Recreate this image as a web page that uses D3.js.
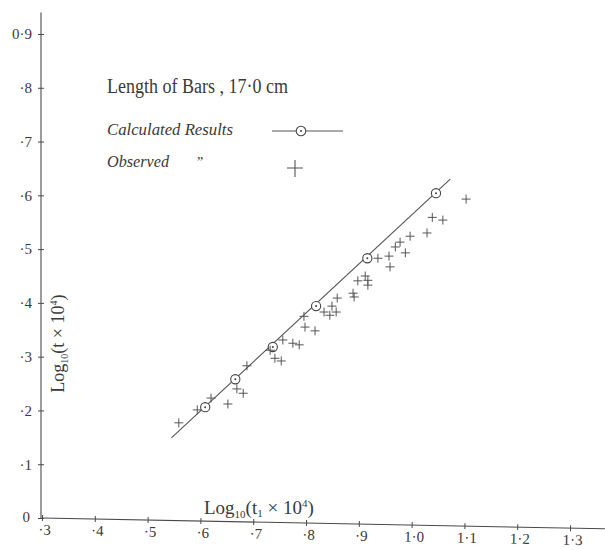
<!DOCTYPE html>
<html>
<head>
<meta charset="utf-8">
<script src="https://cdn.jsdelivr.net/npm/d3@7"></script>
<style>
  html, body { margin: 0; padding: 0; background: #ffffff; }
  svg { display: block; }
  text { fill: #3a3a3a; }
</style>
</head>
<body>
<div id="chart"></div>
<script>
// ---- Data ----
const xTicks = [0.3, 0.4, 0.5, 0.6, 0.7, 0.8, 0.9, 1.0, 1.1, 1.2, 1.3];
const xTickLabels = ["·3", "·4", "·5", "·6", "·7", "·8", "·9", "1·0", "1·1", "1·2", "1·3"];
const yTicks = [0, 0.1, 0.2, 0.3, 0.4, 0.5, 0.6, 0.7, 0.8, 0.9];
const yTickLabels = ["0", "·1", "·2", "·3", "·4", "·5", "·6", "·7", "·8", "0·9"];

// Calculated results (circles on the line)
const calcX = [0.609, 0.666, 0.737, 0.819, 0.916, 1.046];
const calcY = [0.206, 0.258, 0.318, 0.394, 0.483, 0.604];

// Calculated line end points
const lineX = [0.545, 1.073];
const lineY = [0.149, 0.630];

// Observed results (+ marks)
const obsX = [0.559, 0.594, 0.620, 0.652, 0.669, 0.681, 0.688, 0.732, 0.741, 0.753,
              0.756, 0.775, 0.787, 0.796, 0.798, 0.817, 0.834, 0.845, 0.849, 0.857,
              0.859, 0.889, 0.891, 0.898, 0.912, 0.917, 0.917, 0.936, 0.957, 0.959,
              0.969, 0.978, 0.988, 0.997, 1.029, 1.039, 1.059, 1.103];
const obsY = [0.177, 0.201, 0.223, 0.212, 0.240, 0.232, 0.283, 0.312, 0.297, 0.292,
              0.331, 0.325, 0.322, 0.375, 0.355, 0.348, 0.383, 0.377, 0.394, 0.383,
              0.409, 0.418, 0.411, 0.441, 0.450, 0.442, 0.433, 0.483, 0.487, 0.467,
              0.504, 0.513, 0.493, 0.524, 0.530, 0.559, 0.554, 0.593];

// ---- Drawing ----
const W = 605, H = 550;
const ink = "#4a4a4a";
const svg = d3.select("#chart").append("svg").attr("width", W).attr("height", H);

const x = d3.scaleLinear().domain([0.3, 1.366]).range([42, 605]);
const y = d3.scaleLinear().domain([0, 0.9]).range([518, 34]);

// X axis (slightly tilted, as hand drawn)
const xAxis = d3.axisBottom(x).tickValues(xTicks)
  .tickFormat((d, i) => xTickLabels[i]).tickSize(3).tickPadding(3);
const gx = svg.append("g")
  .attr("transform", `translate(0,${y(0)}) rotate(1.1, ${x(0.3)}, 0)`)
  .call(xAxis);
gx.select(".domain").attr("stroke", ink).attr("stroke-width", 1.1)
  .attr("d", `M${x(0.3)},0H${x(1.366)}`);
gx.selectAll(".tick line").attr("stroke", ink).attr("y1", -3).attr("y2", 3);
gx.selectAll(".tick text")
  .attr("font-family", "'Liberation Serif', serif").attr("font-size", 15)
  .attr("fill", "#3a3a3a").attr("dx", "0.15em");

// Y axis
const yAxis = d3.axisLeft(y).tickValues(yTicks)
  .tickFormat((d, i) => yTickLabels[i]).tickSize(3).tickPadding(6);
const gy = svg.append("g").attr("transform", `translate(${x(0.3) - 1},0)`).call(yAxis);
gy.select(".domain").attr("stroke", ink).attr("stroke-width", 1.1)
  .attr("d", `M0,${y(0)}V${y(0.94)}`);
gy.selectAll(".tick line").attr("stroke", ink).attr("x1", -3).attr("x2", 3);
gy.selectAll(".tick text")
  .attr("font-family", "'Liberation Serif', serif").attr("font-size", 15)
  .attr("fill", "#3a3a3a");
// the origin label sits to the left of the corner
gy.selectAll(".tick").filter(d => d === 0).select("text").attr("x", -11).attr("dy", "0.2em");

// Axis titles
svg.append("text")
  .attr("x", x(0.3) + 162).attr("y", y(0) - 4)
  .attr("font-family", "'Liberation Serif', serif").attr("font-size", 19)
  .html('Log<tspan font-size="11" dy="4">10</tspan><tspan dy="-4">(t</tspan><tspan font-size="11" dy="3">1</tspan><tspan dy="-3"> × 10</tspan><tspan font-size="11" dy="-7">4</tspan><tspan dy="7">)</tspan>');

svg.append("text")
  .attr("transform", `translate(${x(0.3) + 22},${y(0.233)}) rotate(-90)`)
  .attr("font-family", "'Liberation Serif', serif").attr("font-size", 18)
  .html('Log<tspan font-size="10" dy="4">10</tspan><tspan dy="-4">(t × 10</tspan><tspan font-size="10" dy="-7">4</tspan><tspan dy="7">)</tspan>');

// Calculated line
svg.append("line")
  .attr("x1", x(lineX[0])).attr("y1", y(lineY[0]))
  .attr("x2", x(lineX[1])).attr("y2", y(lineY[1]))
  .attr("stroke", "#555").attr("stroke-width", 1.1);

// Calculated circles
const calc = calcX.map((v, i) => ({ x: v, y: calcY[i] }));
const cg = svg.append("g").selectAll("g").data(calc).join("g")
  .attr("transform", d => `translate(${x(d.x)},${y(d.y)})`);
cg.append("circle").attr("r", 4.6).attr("fill", "white").attr("stroke", "#444").attr("stroke-width", 1.1);
cg.append("circle").attr("r", 1).attr("fill", "#444");

// Observed plus marks
const obs = obsX.map((v, i) => ({ x: v, y: obsY[i] }));
svg.append("g").selectAll("path").data(obs).join("path")
  .attr("transform", d => `translate(${x(d.x)},${y(d.y)})`)
  .attr("d", "M-4.5,0H4.5M0,-4.5V4.5")
  .attr("stroke", "#555").attr("stroke-width", 1).attr("fill", "none");

// Legend
const lg = svg.append("g").attr("font-family", "'Liberation Serif', serif");
lg.append("text").attr("x", 107).attr("y", 93).attr("font-size", 20)
  .attr("textLength", 181).attr("lengthAdjust", "spacingAndGlyphs")
  .text("Length of Bars , 17·0 cm");
lg.append("text").attr("x", 107).attr("y", 135).attr("font-size", 17).attr("font-style", "italic")
  .attr("textLength", 126).attr("lengthAdjust", "spacingAndGlyphs")
  .text("Calculated Results");
lg.append("text").attr("x", 107).attr("y", 167).attr("font-size", 17).attr("font-style", "italic")
  .attr("textLength", 62).attr("lengthAdjust", "spacingAndGlyphs")
  .text("Observed");
lg.append("text").attr("x", 197).attr("y", 167).attr("font-size", 14).text("\u201D");
lg.append("line").attr("x1", 272).attr("x2", 343).attr("y1", 131).attr("y2", 131)
  .attr("stroke", "#555").attr("stroke-width", 1.1);
lg.append("circle").attr("cx", 301).attr("cy", 131).attr("r", 4.8)
  .attr("fill", "white").attr("stroke", "#444").attr("stroke-width", 1.1);
lg.append("circle").attr("cx", 301).attr("cy", 131).attr("r", 1).attr("fill", "#444");
lg.append("path").attr("d", "M287,168H303M295,160V177")
  .attr("stroke", "#555").attr("stroke-width", 1.1).attr("fill", "none");
</script>
</body>
</html>
